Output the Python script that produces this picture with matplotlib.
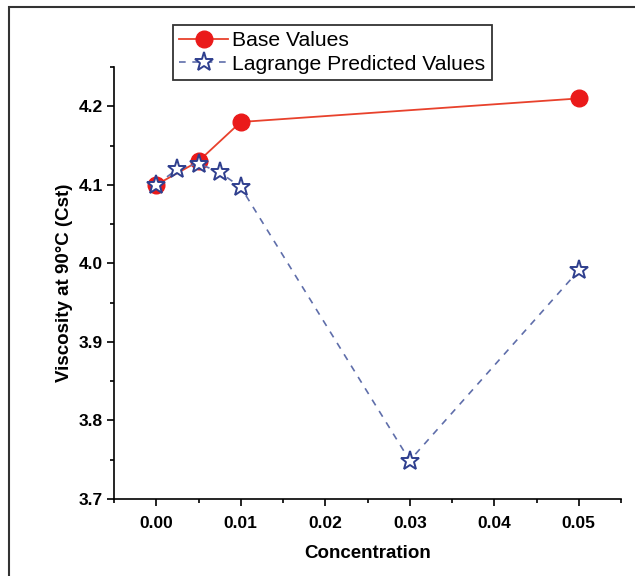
import matplotlib
matplotlib.use("Agg")
import matplotlib.pyplot as plt
from matplotlib.patches import Rectangle
from matplotlib.ticker import MultipleLocator

plt.rcParams['font.family'] = ['Liberation Sans', 'DejaVu Sans']

# Data
base_x = [0.0, 0.005, 0.01, 0.05]
base_y = [4.10, 4.13, 4.18, 4.21]
lag_x = [0.0, 0.0025, 0.005, 0.0075, 0.01, 0.03, 0.05]
lag_y = [4.10, 4.12, 4.127, 4.116, 4.097, 3.749, 3.991]
x_ticks = [0.00, 0.01, 0.02, 0.03, 0.04, 0.05]
y_ticks = [3.7, 3.8, 3.9, 4.0, 4.1, 4.2]
x_label = "Concentration"
y_label = "Viscosity at 90°C (Cst)"
series_names = ["Base Values", "Lagrange Predicted Values"]

fig = plt.figure(figsize=(6.35, 5.76), dpi=100)
fig.patch.set_facecolor('white')
# outer frame
fig.patches.append(Rectangle((9/635, -0.1), 1.2, 1 - 7/576 + 0.1, transform=fig.transFigure,
                             fill=False, edgecolor='#333333', linewidth=1.5, zorder=0))

ax = fig.add_axes([114/635, 1 - 499/576, (621 - 114)/635, (499 - 67)/576])
ax.plot(base_x, base_y, color='#e8412c', linewidth=1.3, marker='o', markersize=12,
        markerfacecolor='#ea1a1a', markeredgecolor='#ea1a1a', label=series_names[0], zorder=3)
ax.plot(lag_x, lag_y, color='#5f6eaa', linewidth=1.2, linestyle=(0, (4, 4)), marker='*',
        markersize=14, markerfacecolor='white', markeredgecolor='#2f3f8e', markeredgewidth=1.4,
        label=series_names[1], zorder=4)

ax.set_xlim(-0.005, 0.055)
ax.set_ylim(3.7, 4.25)
ax.set_xticks(x_ticks)
ax.set_yticks(y_ticks)
ax.set_xticklabels([f"{v:.2f}" for v in x_ticks])
ax.set_yticklabels([f"{v:.1f}" for v in y_ticks])
ax.xaxis.set_minor_locator(MultipleLocator(0.005))
ax.yaxis.set_minor_locator(MultipleLocator(0.05))
for s in ['top', 'right']:
    ax.spines[s].set_visible(False)
for s in ['left', 'bottom']:
    ax.spines[s].set_linewidth(1.2)
ax.tick_params(which='major', direction='out', length=5, width=1.2, labelsize=12.5, pad=7)
ax.tick_params(which='minor', direction='out', length=3, width=1.2)
ax.tick_params(axis='y', which='major', pad=3)
for lbl in ax.get_xticklabels() + ax.get_yticklabels():
    lbl.set_fontweight('bold')
ax.set_xlabel(x_label, fontsize=13.5, fontweight='bold', labelpad=10)
ax.set_ylabel(y_label, fontsize=13.5, fontweight='bold', labelpad=4)

leg = fig.legend(loc='upper left', bbox_to_anchor=(173/635, 1 - 25/576), fontsize=15.2,
                 frameon=True, fancybox=False, edgecolor='black', handlelength=2.3,
                 handletextpad=0.2, borderpad=0.3, labelspacing=0.2, borderaxespad=0)
leg.get_frame().set_linewidth(1.3)

fig.savefig('out.png', dpi=100, facecolor='white')
